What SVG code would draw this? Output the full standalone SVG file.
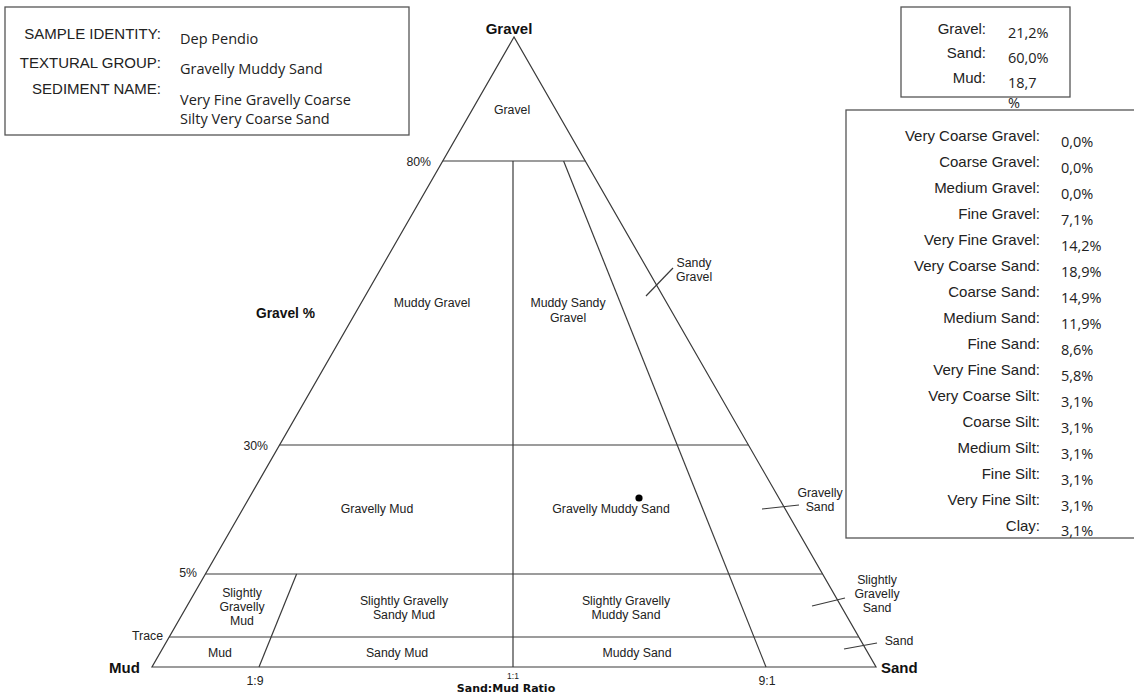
<svg xmlns="http://www.w3.org/2000/svg" width="1134" height="695" viewBox="0 0 1134 695">
<style>
.ln{stroke:#3a3a3a;stroke-width:1.2;fill:none}
.box{stroke:#555;stroke-width:1.3;fill:#fff}
.lab{font-family:"Liberation Sans",Arial,sans-serif;font-size:15px;fill:#222;text-anchor:end}
.val{font-family:"Open Sans","Noto Sans",sans-serif;font-size:14.5px;fill:#222}
.rg{font-family:"Liberation Sans",Arial,sans-serif;font-size:12.3px;fill:#222;text-anchor:middle}
.ax{font-family:"Liberation Sans",Arial,sans-serif;font-size:12.3px;fill:#222}
.cr{font-family:"Liberation Sans",Arial,sans-serif;font-size:15px;font-weight:bold;fill:#111}
</style>
<rect width="1134" height="695" fill="#fff"/>

<g id="sample-box">
<rect class="box" x="5" y="7" width="404" height="128"/>
<text class="lab" x="161" y="38.5">SAMPLE IDENTITY:</text>
<text class="lab" x="161" y="67.5">TEXTURAL GROUP:</text>
<text class="lab" x="161" y="93.5">SEDIMENT NAME:</text>
<text class="val" x="180" y="44">Dep Pendio</text>
<text class="val" x="180" y="74">Gravelly Muddy Sand</text>
<text class="val" x="180" y="105">Very Fine Gravelly Coarse</text>
<text class="val" x="180" y="124">Silty Very Coarse Sand</text>
</g>

<g id="totals-box">
<rect class="box" x="901" y="7" width="169" height="90"/>
<text class="lab" x="986" y="33.5">Gravel:</text>
<text class="lab" x="986" y="57.5">Sand:</text>
<text class="lab" x="986" y="82.5">Mud:</text>
<text class="val" x="1008" y="38">21,2%</text>
<text class="val" x="1008" y="63">60,0%</text>
<text class="val" x="1008" y="88">18,7</text>
<text class="val" x="1008" y="108">%</text>
</g>

<g id="fractions-box">
<rect class="box" x="846" y="110" width="300" height="428"/>
<g class="lab">
<text x="1040" y="140.5">Very Coarse Gravel:</text>
<text x="1040" y="166.5">Coarse Gravel:</text>
<text x="1040" y="192.5">Medium Gravel:</text>
<text x="1040" y="218.5">Fine Gravel:</text>
<text x="1040" y="244.5">Very Fine Gravel:</text>
<text x="1040" y="270.5">Very Coarse Sand:</text>
<text x="1040" y="296.5">Coarse Sand:</text>
<text x="1040" y="322.5">Medium Sand:</text>
<text x="1040" y="348.5">Fine Sand:</text>
<text x="1040" y="374.5">Very Fine Sand:</text>
<text x="1040" y="400.5">Very Coarse Silt:</text>
<text x="1040" y="426.5">Coarse Silt:</text>
<text x="1040" y="452.5">Medium Silt:</text>
<text x="1040" y="478.5">Fine Silt:</text>
<text x="1040" y="504.5">Very Fine Silt:</text>
<text x="1040" y="530.5">Clay:</text>
</g>
<g class="val">
<text x="1061" y="146.5">0,0%</text>
<text x="1061" y="172.5">0,0%</text>
<text x="1061" y="198.5">0,0%</text>
<text x="1061" y="224.5">7,1%</text>
<text x="1061" y="250.5">14,2%</text>
<text x="1061" y="276.5">18,9%</text>
<text x="1061" y="302.5">14,9%</text>
<text x="1061" y="328.5">11,9%</text>
<text x="1061" y="354.5">8,6%</text>
<text x="1061" y="380.5">5,8%</text>
<text x="1061" y="406.5">3,1%</text>
<text x="1061" y="432.5">3,1%</text>
<text x="1061" y="458.5">3,1%</text>
<text x="1061" y="484.5">3,1%</text>
<text x="1061" y="510.5">3,1%</text>
<text x="1061" y="536">3,1%</text>
</g>
</g>

<g id="connectors">
<polygon class="ln" points="514,37 152,667 876,667"/>
<line class="ln" x1="442.7" y1="161" x2="585.3" y2="161"/>
<line class="ln" x1="279.6" y1="445" x2="748.4" y2="445"/>
<line class="ln" x1="205.4" y1="574" x2="822.6" y2="574"/>
<line class="ln" x1="169.2" y1="637" x2="858.8" y2="637"/>
<line class="ln" x1="513" y1="161" x2="513" y2="667"/>
<line class="ln" x1="259" y1="667" x2="296.6" y2="574"/>
<line class="ln" x1="766" y1="667" x2="563.6" y2="161"/>
<line class="ln" x1="646" y1="296" x2="673" y2="268"/>
<line class="ln" x1="762" y1="509" x2="799" y2="505"/>
<line class="ln" x1="812" y1="606" x2="845" y2="598"/>
<line class="ln" x1="844" y1="649" x2="877" y2="643"/>
</g>

<g id="corner-labels">
<text class="cr" x="509" y="34" text-anchor="middle">Gravel</text>
<text class="cr" x="109" y="673">Mud</text>
<text class="cr" x="881" y="673">Sand</text>
<text class="cr" x="256" y="318" style="font-size:13.8px">Gravel %</text>
<text x="506" y="692" text-anchor="middle" style="font-family:'DejaVu Sans',Verdana,sans-serif;font-size:11px;font-weight:bold;fill:#111">Sand:Mud Ratio</text>
</g>

<g id="axis-labels">
<text class="ax" x="431" y="166" text-anchor="end">80%</text>
<text class="ax" x="268" y="450" text-anchor="end">30%</text>
<text class="ax" x="197" y="577" text-anchor="end">5%</text>
<text class="ax" x="163" y="640" text-anchor="end">Trace</text>
<text class="ax" x="255" y="685" text-anchor="middle">1:9</text>
<text class="ax" x="513" y="678.5" text-anchor="middle" style="font-size:8.5px">1:1</text>
<text class="ax" x="767" y="685" text-anchor="middle">9:1</text>
</g>

<g id="region-gravel"><text class="rg" x="512" y="114">Gravel</text></g>
<g id="region-muddy-gravel"><text class="rg" x="432" y="306.5">Muddy Gravel</text></g>
<g id="region-muddy-sandy-gravel"><text class="rg" x="568" y="306.5">Muddy Sandy</text><text class="rg" x="568" y="321.5">Gravel</text></g>
<g id="region-sandy-gravel"><text class="rg" x="694" y="267">Sandy</text><text class="rg" x="694" y="281">Gravel</text></g>
<g id="region-gravelly-mud"><text class="rg" x="377" y="513">Gravelly Mud</text></g>
<g id="region-gravelly-muddy-sand"><text class="rg" x="611" y="513">Gravelly Muddy Sand</text></g>
<g id="region-gravelly-sand"><text class="rg" x="820" y="497">Gravelly</text><text class="rg" x="820" y="511">Sand</text></g>
<g id="region-sl-gravelly-mud"><text class="rg" x="242" y="597">Slightly</text><text class="rg" x="242" y="611">Gravelly</text><text class="rg" x="242" y="625">Mud</text></g>
<g id="region-sl-gravelly-sandy-mud"><text class="rg" x="404" y="605">Slightly Gravelly</text><text class="rg" x="404" y="619">Sandy Mud</text></g>
<g id="region-sl-gravelly-muddy-sand"><text class="rg" x="626" y="605">Slightly Gravelly</text><text class="rg" x="626" y="619">Muddy Sand</text></g>
<g id="region-sl-gravelly-sand"><text class="rg" x="877" y="584">Slightly</text><text class="rg" x="877" y="598">Gravelly</text><text class="rg" x="877" y="612">Sand</text></g>
<g id="region-mud"><text class="rg" x="220" y="657">Mud</text></g>
<g id="region-sandy-mud"><text class="rg" x="397" y="657">Sandy Mud</text></g>
<g id="region-muddy-sand"><text class="rg" x="637" y="657">Muddy Sand</text></g>
<g id="region-sand"><text class="rg" x="899" y="645">Sand</text></g>

<g id="sample-point"><circle cx="639" cy="498" r="3.6" fill="#000"/></g>
</svg>
